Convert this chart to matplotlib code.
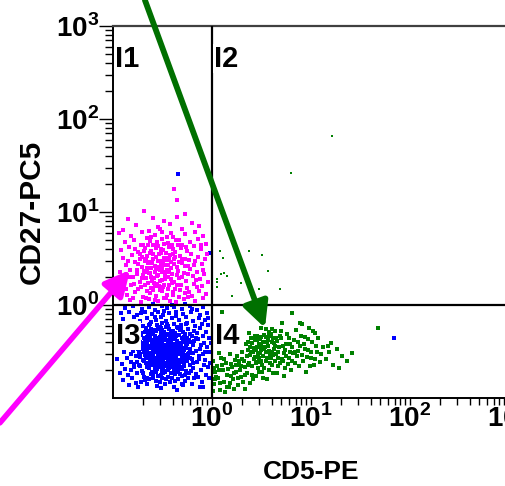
import numpy as np
import matplotlib
matplotlib.use("Agg")
import matplotlib.pyplot as plt
from matplotlib.ticker import FixedLocator, NullFormatter

plt.rcParams["font.family"] = ["Liberation Sans", "DejaVu Sans"]
plt.rcParams["font.weight"] = "bold"
plt.rcParams["mathtext.fontset"] = "custom"
plt.rcParams["mathtext.rm"] = "Liberation Sans"
plt.rcParams["mathtext.bf"] = "Liberation Sans:bold"

# Events as (log10 CD5-PE, log10 CD27-PC5) in hundredths of a decade
cd27_pos_cd5_neg = [  # I1, magenta
    (-69, 101), (-27, 98), (-85, 92), (-60, 94), (-48, 90), (-35, 95), (-20, 88), (-77, 86), (-55, 84),
    (-42, 87), (-90, 81), (-30, 82), (-13, 85), (-64, 80),
    (-94, 77), (-82, 74), (-71, 79), (-58, 75), (-50, 78), (-39, 73), (-27, 76), (-17, 79), (-9, 74),
    (-66, 72), (-45, 73),
    (-88, 68), (-79, 70), (-72, 65), (-63, 69), (-56, 66), (-51, 71), (-44, 67), (-36, 70), (-30, 65),
    (-22, 68), (-14, 71), (-6, 66), (-60, 64), (-40, 64),
    (-92, 59), (-84, 62), (-75, 57), (-68, 61), (-62, 58), (-55, 63), (-49, 59), (-43, 62), (-37, 57),
    (-31, 61), (-25, 58), (-18, 63), (-11, 60), (-70, 64), (-52, 56), (-34, 64),
    (-90, 51), (-81, 54), (-73, 49), (-66, 53), (-60, 50), (-54, 55), (-48, 51), (-42, 54), (-38, 49),
    (-32, 53), (-27, 50), (-21, 55), (-14, 52), (-7, 49), (-63, 56), (-45, 48), (-57, 52),
    (-87, 43), (-78, 46), (-71, 41), (-65, 45), (-58, 42), (-53, 47), (-47, 43), (-41, 46), (-35, 41),
    (-30, 45), (-24, 42), (-17, 47), (-10, 44), (-62, 40), (-50, 40), (-38, 44), (-68, 47),
    (-93, 35), (-83, 38), (-76, 33), (-69, 37), (-63, 34), (-57, 39), (-51, 35), (-45, 38), (-40, 33),
    (-34, 37), (-28, 34), (-22, 39), (-15, 36), (-8, 33), (-55, 32), (-43, 35), (-66, 40),
    (-89, 27), (-80, 30), (-73, 25), (-67, 29), (-61, 26), (-56, 31), (-50, 27), (-44, 30), (-38, 25),
    (-33, 29), (-26, 26), (-19, 31), (-12, 28), (-4, 25), (-59, 24), (-47, 32), (-70, 32),
    (-91, 19), (-82, 22), (-75, 17), (-68, 21), (-62, 18), (-56, 23), (-49, 19), (-43, 22), (-37, 17),
    (-31, 21), (-25, 18), (-18, 23), (-10, 20), (-53, 16), (-40, 24), (-65, 24),
    (-86, 11), (-78, 14), (-70, 9), (-63, 13), (-57, 10), (-51, 15), (-45, 11), (-39, 14), (-33, 9),
    (-27, 13), (-20, 10), (-13, 15), (-6, 12), (-60, 16), (-48, 8),
    (-83, 5), (-72, 3), (-64, 6), (-55, 4), (-46, 7), (-36, 3), (-28, 6), (-17, 4), (-9, 7),
    (-64, 46), (-55, 47), (-44, 43), (-37, 52), (-60, 55), (-52, 60), (-46, 56), (-71, 52), (-66, 36),
    (-53, 38), (-47, 28), (-41, 40), (-35, 32), (-58, 20), (-48, 22), (-30, 50), (-62, 30), (-42, 63),
    (-56, 68), (-69, 58), (-75, 44), (-52, 44), (-39, 60), (-46, 51), (-58, 35),
    (-78, 60), (-73, 55), (-67, 49), (-61, 45), (-55, 41), (-49, 46), (-43, 50), (-39, 55), (-33, 46),
    (-27, 42), (-23, 48), (-18, 43), (-76, 38), (-71, 29), (-64, 34), (-59, 29), (-53, 26), (-46, 35),
    (-41, 28), (-35, 22), (-30, 30), (-24, 33), (-16, 27), (-79, 23), (-72, 19), (-66, 15), (-54, 20),
    (-44, 17), (-39, 11), (-32, 16), (-23, 14), (-15, 19), (-67, 7), (-58, 5), (-42, 4), (-24, 9),
    (-85, 47), (-84, 30), (-87, 17), (-80, 8), (-62, 73), (-48, 66), (-33, 70), (-26, 62), (-57, 61),
    (-65, 65), (-41, 77), (-53, 82), (-9, 38), (-5, 55), (-11, 65),
    (-38, 125), (-35, 113),
]

cd27_neg_cd5_neg = [  # I3, blue
    (-88, -3), (-80, -1), (-71, -4), (-64, -2), (-58, -5), (-51, -1), (-45, -3), (-38, -2), (-30, -4),
    (-22, -1), (-15, -5), (-9, -2), (-60, 1), (-40, 0), (-27, 1),
    (-92, -9), (-84, -7), (-76, -11), (-68, -8), (-61, -10), (-55, -7), (-49, -11), (-43, -9), (-36, -7),
    (-29, -10), (-21, -8), (-12, -11), (-5, -9),
    (-90, -15), (-79, -13), (-73, -17), (-66, -14), (-57, -16), (-52, -13), (-46, -17), (-40, -14),
    (-33, -16), (-26, -13), (-19, -17), (-13, -14), (-7, -16), (-62, -18),
    (-88, -21), (-80, -19), (-70, -23), (-63, -20), (-56, -22), (-50, -19), (-44, -23), (-38, -20),
    (-31, -22), (-25, -19), (-17, -23), (-10, -20), (-4, -22), (-53, -24), (-35, -24),
    (-85, -27), (-74, -25), (-68, -29), (-62, -26), (-57, -28), (-52, -25), (-48, -29), (-43, -26),
    (-39, -28), (-34, -25), (-29, -29), (-24, -26), (-18, -28), (-12, -25), (-6, -29), (-65, -30),
    (-46, -31), (-27, -31),
    (-90, -33), (-81, -35), (-72, -32), (-66, -34), (-60, -31), (-55, -35), (-51, -32), (-47, -34),
    (-42, -31), (-38, -35), (-33, -32), (-28, -34), (-22, -31), (-16, -35), (-9, -33), (-3, -36),
    (-58, -33), (-36, -33), (-69, -36),
    (-87, -39), (-78, -37), (-70, -41), (-64, -38), (-59, -40), (-54, -37), (-50, -41), (-46, -38),
    (-41, -40), (-37, -37), (-32, -41), (-27, -38), (-21, -40), (-14, -37), (-8, -41), (-61, -42),
    (-52, -39), (-44, -42), (-35, -39), (-25, -42),
    (-93, -45), (-84, -43), (-75, -47), (-68, -44), (-63, -46), (-58, -43), (-53, -47), (-49, -44),
    (-45, -46), (-40, -43), (-36, -47), (-31, -44), (-26, -46), (-19, -43), (-12, -47), (-5, -45),
    (-56, -45), (-42, -45), (-33, -48), (-71, -43),
    (-89, -51), (-80, -49), (-73, -53), (-67, -50), (-62, -52), (-57, -49), (-52, -53), (-48, -50),
    (-44, -52), (-39, -49), (-34, -53), (-29, -50), (-23, -52), (-16, -49), (-9, -53), (-3, -51),
    (-60, -54), (-46, -54), (-37, -51), (-54, -51),
    (-86, -57), (-77, -55), (-70, -59), (-65, -56), (-59, -58), (-55, -55), (-50, -59), (-46, -56),
    (-41, -58), (-37, -55), (-32, -59), (-26, -56), (-20, -58), (-13, -55), (-7, -59), (-62, -60),
    (-48, -57), (-35, -60),
    (-91, -63), (-82, -61), (-74, -65), (-67, -62), (-61, -64), (-56, -61), (-52, -65), (-47, -62),
    (-43, -64), (-38, -61), (-33, -65), (-28, -62), (-22, -64), (-15, -61), (-8, -65), (-58, -66),
    (-45, -66),
    (-88, -69), (-79, -67), (-71, -71), (-64, -68), (-58, -70), (-53, -67), (-48, -71), (-43, -68),
    (-38, -70), (-32, -67), (-26, -71), (-19, -68), (-11, -70), (-4, -67), (-61, -72), (-50, -69),
    (-85, -75), (-76, -73), (-69, -77), (-62, -74), (-55, -76), (-49, -73), (-44, -77), (-37, -74),
    (-30, -76), (-23, -73), (-14, -77), (-6, -75), (-66, -78), (-40, -78),
    (-90, -81), (-81, -79), (-72, -83), (-64, -80), (-57, -82), (-50, -79), (-42, -83), (-34, -80),
    (-27, -82), (-18, -79), (-10, -83),
    (-84, -86), (-75, -88), (-66, -85), (-56, -87), (-47, -85), (-38, -88), (-29, -86), (-20, -85),
    (-12, -88),
    (-66, -28), (-59, -27), (-50, -27), (-41, -29), (-32, -27), (-63, -33), (-53, -34), (-44, -32),
    (-30, -36), (-68, -39), (-56, -40), (-48, -38), (-39, -42), (-29, -40), (-65, -44), (-60, -48),
    (-51, -45), (-47, -48), (-38, -46), (-28, -48), (-69, -51), (-64, -53), (-55, -53), (-50, -51),
    (-41, -54), (-31, -52), (-67, -57), (-57, -57), (-52, -56), (-43, -55), (-39, -59), (-29, -58),
    (-64, -62), (-54, -63), (-49, -60), (-41, -62), (-35, -63), (-25, -60), (-66, -67), (-56, -69),
    (-46, -65), (-40, -67), (-30, -69), (-60, -74), (-52, -75), (-47, -72), (-34, -72), (-27, -75),
    (-62, -46), (-45, -50), (-36, -56), (-58, -61), (-44, -70), (-54, -42), (-35, -44), (-57, -37),
    (-42, -36), (-49, -33), (-61, -38), (-26, -44), (-70, -47), (-24, -53), (-63, -58), (-33, -68),
    (-53, -60), (-47, -43), (-38, -53), (-55, -65), (-44, -59), (-50, -47),
    (-72, -30), (-67, -25), (-61, -29), (-55, -26), (-46, -24), (-37, -30), (-31, -25), (-20, -33),
    (-74, -35), (-64, -31), (-52, -30), (-40, -33), (-25, -35), (-18, -39), (-73, -40), (-66, -41),
    (-58, -39), (-49, -36), (-43, -39), (-34, -42), (-23, -38), (-76, -45), (-66, -48), (-59, -45),
    (-52, -43), (-43, -48), (-37, -43), (-29, -46), (-22, -47), (-74, -50), (-68, -54), (-58, -51),
    (-51, -49), (-42, -50), (-33, -50), (-27, -54), (-19, -52), (-73, -56), (-63, -55), (-54, -58),
    (-47, -53), (-40, -56), (-30, -55), (-22, -57), (-76, -61), (-69, -60), (-60, -63), (-51, -62),
    (-44, -61), (-37, -64), (-31, -61), (-19, -62), (-73, -66), (-63, -65), (-57, -68), (-49, -67),
    (-42, -65), (-36, -68), (-28, -66), (-21, -71), (-70, -73), (-57, -72), (-51, -71), (-41, -73),
    (-32, -74), (-24, -78), (-68, -81), (-60, -79), (-46, -80), (-37, -82), (-53, -83), (-30, -85),
    (-79, -63), (-82, -53), (-84, -38), (-83, -27), (-78, -31), (-15, -30), (-11, -43), (-13, -58),
    (-16, -74), (-7, -50), (-26, -20), (-45, -20), (-64, -22), (-58, -13), (-36, -12), (-20, -4),
    (-72, -9), (-48, -6), (-82, -70), (-77, -84), (-52, -89), (-35, -91), (-9, -88), (-3, -79),
    (-2, -62), (-1, -41), (-4, -14), (-94, -27), (-96, -58), (-93, -73),
    (-2, 56), (-34, 141), (184, -35),
]

cd27_neg_cd5_pos = [  # I4, green
    (1, -60), (3, -72), (2, -85), (5, -66), (6, -79), (8, -91), (9, -57), (11, -70), (12, -83), (14, -62),
    (15, -75), (17, -88), (18, -53), (20, -67), (21, -80), (23, -59), (24, -72), (26, -86), (27, -64),
    (29, -77), (30, -50), (4, -77), (10, -64), (16, -69), (22, -90), (28, -70), (13, -94), (7, -52),
    (19, -76), (25, -55), (2, -68), (31, -83),
    (32, -60), (34, -42), (35, -73), (37, -30), (38, -54), (40, -66), (41, -80), (43, -38), (44, -48),
    (46, -61), (47, -72), (49, -25), (50, -44), (52, -55), (53, -68), (55, -34), (56, -80), (58, -49),
    (59, -62), (61, -40), (62, -73), (64, -28), (65, -53), (67, -66), (68, -45), (70, -36), (71, -58),
    (73, -76), (74, -48), (76, -31), (77, -63), (79, -42), (80, -70), (82, -52), (36, -48), (39, -36),
    (42, -58), (45, -33), (48, -52), (51, -64), (54, -45), (57, -38), (60, -57), (63, -47), (66, -39),
    (69, -62), (72, -44), (75, -55), (78, -35), (81, -60), (33, -67), (47, -42), (56, -57), (62, -35),
    (67, -50), (74, -68), (44, -76), (58, -70), (38, -84), (52, -78), (35, -55), (61, -50), (50, -34),
    (42, -46), (70, -28), (64, -60), (46, -53), (55, -26), (73, -52), (40, -41), (66, -73), (79, -50),
    (83, -38), (85, -27), (86, -55), (88, -66), (89, -44), (91, -20), (92, -60), (94, -34), (95, -72),
    (97, -48), (98, -25), (100, -57), (101, -40), (103, -65), (104, -30), (106, -50), (107, -36),
    (109, -61), (87, -49), (93, -42), (99, -66), (105, -44), (90, -33), (96, -56), (84, -62), (102, -28),
    (112, -45), (115, -58), (118, -50), (122, -64), (126, -47), (131, -55), (136, -60), (141, -52),
    (120, -41), (128, -68),
    (10, -8), (81, -9), (89, -19), (71, -19),
    (43, -33), (48, -37), (52, -40), (57, -44), (60, -31), (63, -41), (45, -45), (55, -50), (50, -48),
    (41, -51), (65, -35), (58, -29), (38, -45), (53, -32), (47, -57), (62, -54), (44, -62), (36, -64),
    (30, -58), (27, -60),
    (3, -80), (7, -70), (12, -58), (15, -88), (19, -63), (22, -73), (26, -78), (29, -66), (33, -75),
    (37, -62), (39, -50), (43, -56), (46, -68), (49, -60), (53, -47), (56, -40), (59, -53), (61, -65),
    (64, -44), (67, -57), (69, -33), (72, -60), (75, -42), (78, -57), (81, -45), (84, -51), (87, -40),
    (91, -54), (94, -47), (97, -37), (100, -50), (104, -58), (110, -53), (117, -44), (8, -84), (1, -92),
    (33, -90), (24, -64), (51, -72), (58, -33), (36, -40), (61, -26), (45, -38), (55, -60), (40, -75),
    (18, -84),
    (168, -25),
]

cd27_pos_cd5_pos = [  # I2, green
    (121, 182), (80, 142), (8, 58), (11, 51), (37, 58), (51, 54), (57, 37), (9, 33), (12, 34), (15, 31),
    (5, 28), (5, 25), (5, 19), (29, 24), (47, 17), (20, 10), (69, 17),
]

populations = [
    (cd27_neg_cd5_neg, "#0000ff", 2.2),
    (cd27_pos_cd5_neg, "#ff00ff", 2.2),
    (cd27_neg_cd5_pos, "#008000", 2.2),
    (cd27_pos_cd5_pos, "#008000", 2.0),
]

gate_x = 1.0
gate_y = 1.0
decades = [1, 10, 100, 1000]
exponents = [0, 1, 2, 3]

fig = plt.figure(figsize=(5.06, 4.86), dpi=100)
ax = fig.add_axes([113 / 506, 1 - 398 / 486, 396 / 506, 372 / 486])
ax.set_xscale("log")
ax.set_yscale("log")
ax.set_xlim(0.1, 1000)
ax.set_ylim(0.1, 1000)

for events, colour, size in populations:
    arr = np.array(events, dtype=float) / 100.0
    ax.plot(10 ** arr[:, 0], 10 ** arr[:, 1], "s", ms=size, mew=0,
            color=colour, zorder=2)

ax.axvline(gate_x, color="black", lw=1.6, zorder=3)
ax.axhline(gate_y, color="black", lw=1.6, zorder=3)

for s in ("left", "bottom"):
    ax.spines[s].set_linewidth(1.4)
    ax.spines[s].set_color("black")
ax.spines["top"].set_linewidth(1.6)
ax.spines["top"].set_color("#404040")
ax.spines["right"].set_visible(False)

labels = [r"$\mathbf{10}^{\mathrm{%d}}$" % e for e in exponents]
minor = [m * d for d in [0.1, 1, 10, 100] for m in range(2, 10)]
for axis in (ax.xaxis, ax.yaxis):
    axis.set_major_locator(FixedLocator(decades))
    axis.set_minor_locator(FixedLocator(minor))
    axis.set_minor_formatter(NullFormatter())
ax.set_xticklabels(labels, fontsize=20)
ax.set_yticklabels(labels, fontsize=20)
ax.tick_params(axis="y", which="major", direction="out", length=10, width=1, pad=0)
ax.tick_params(axis="y", which="minor", direction="out", length=5.5, width=1)
ax.tick_params(axis="x", which="both", direction="out", length=5, width=1, pad=0)

fig.text(311 / 506, 1 - 472 / 486, "CD5-PE", ha="center", va="center",
         fontsize=19, fontweight="bold")
fig.text(32 / 506, 1 - 212 / 486, "CD27-PC5", ha="center", va="center",
         rotation=90, fontsize=21.5, fontweight="bold")

box = dict(facecolor="white", edgecolor="none", pad=0.5)
ax.text(0.005, 0.95, "I1", transform=ax.transAxes, ha="left", va="top",
        fontsize=21, fontweight="bold", bbox=box, zorder=4)
ax.text(0.255, 0.95, "I2", transform=ax.transAxes, ha="left", va="top",
        fontsize=21, fontweight="bold", bbox=box, zorder=4)
ax.text(0.007, 0.205, "I3", transform=ax.transAxes, ha="left", va="top",
        fontsize=21, fontweight="bold", bbox=box, zorder=4)
ax.text(0.257, 0.205, "I4", transform=ax.transAxes, ha="left", va="top",
        fontsize=21, fontweight="bold", bbox=box, zorder=4)

# Pointers to the CD5+ and CD27+ subsets
ax.annotate("", xy=(3.43, 0.566), xytext=(0.21, 1900), xycoords="data",
            arrowprops=dict(arrowstyle="-|>", color="#007000", lw=4.2,
                            mutation_scale=38, shrinkA=0, shrinkB=0),
            annotation_clip=False, zorder=5)
ax.annotate("", xy=(0.149, 2.38), xytext=(0.0072, 0.054), xycoords="data",
            arrowprops=dict(arrowstyle="-|>", color="#ff00ff", lw=4.0,
                            mutation_scale=38, shrinkA=0, shrinkB=0),
            annotation_clip=False, zorder=5)

fig.savefig("out.png", dpi=100)
